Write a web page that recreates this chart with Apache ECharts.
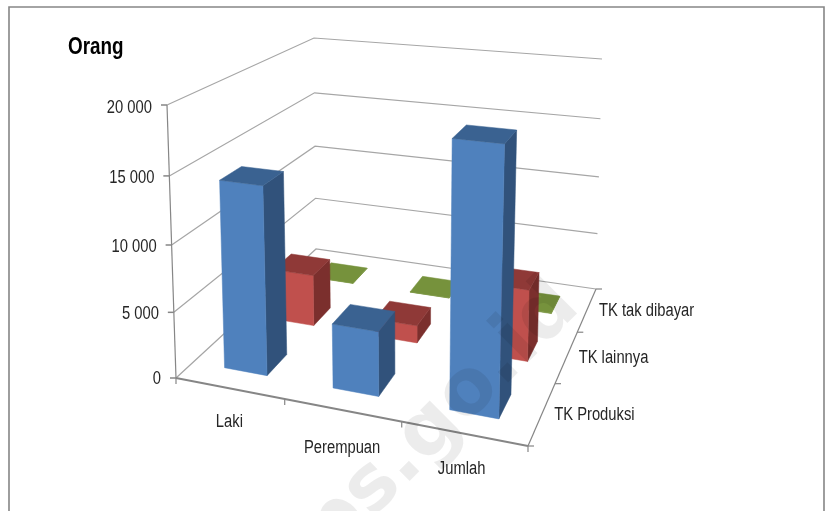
<!DOCTYPE html>
<html>
<head>
<meta charset="utf-8">
<style>html,body{margin:0;padding:0;background:#fff}#chart{width:825px;height:511px}</style>
<script src="https://cdn.jsdelivr.net/npm/echarts@6/dist/echarts.min.js"></script>
</head>
<body>
<div id="chart"></div>
<script>
// Workers by sex and worker type
const categories = ['Laki', 'Perempuan', 'Jumlah'];
const depthLabels = ['TK Produksi', 'TK lainnya', 'TK tak dibayar'];
const yTicks = [0, 5000, 10000, 15000, 20000];
const yTickLabels = ['0', '5 000', '10 000', '15 000', '20 000'];
const tkProduksi = [14200, 4800, 19000];
const tkLainnya = [4200, 1400, 5600];
const tkTakDibayar = [30, 20, 50];

const yMax = 20000;
const W = 825, H = 511;
const FONT = '"Liberation Sans",sans-serif';
const NARROW = 0.82;
const BAR_HALF = 0.2;
const HEIGHT_BEND = -0.05;
const CATEGORY_LABEL_SHIFT = [[0, 34], [0, 38], [-2, 35]];

// Maps the unit square onto a screen quad: front-left, front-right, back-right, back-left
function quadMap(q) {
  const [p0, p1, p2, p3] = q;
  const dx1 = p1[0] - p2[0], dx2 = p3[0] - p2[0], sx = p0[0] - p1[0] + p2[0] - p3[0];
  const dy1 = p1[1] - p2[1], dy2 = p3[1] - p2[1], sy = p0[1] - p1[1] + p2[1] - p3[1];
  const den = dx1 * dy2 - dx2 * dy1;
  const g = (sx * dy2 - dx2 * sy) / den, h = (dx1 * sy - sx * dy1) / den;
  const a = p1[0] - p0[0] + g * p1[0], b = p3[0] - p0[0] + h * p3[0];
  const d = p1[1] - p0[1] + g * p1[1], e = p3[1] - p0[1] + h * p3[1];
  return (u, v) => {
    const w = g * u + h * v + 1;
    return [(a * u + b * v + p0[0]) / w, (d * u + e * v + p0[1]) / w];
  };
}
const floorMap = quadMap([[176, 378], [528, 446], [596, 289], [316, 249]]);
const ceilingMap = quadMap([[167, 105], [537, 144], [602, 59], [314, 38]]);

// Category units and values go through the hidden axes, depth is in row units
function project(api, cat, depth, val) {
  const pt = api.coord([cat, val]);
  const u = pt[0] / api.getWidth(), t = 1 - pt[1] / api.getHeight(), v = depth / 3;
  const lo = floorMap(u, v), hi = ceilingMap(u, v);
  const s = t * (1 + HEIGHT_BEND) / (1 + HEIGHT_BEND * t);
  return [lo[0] + (hi[0] - lo[0]) * s, lo[1] + (hi[1] - lo[1]) * s];
}

function poly(points, fill) {
  return { type: 'polygon', shape: { points }, style: { fill, stroke: fill, lineWidth: 0.5 } };
}
function line(points, stroke, lineWidth) {
  return { type: 'polyline', shape: { points }, style: { fill: 'none', stroke, lineWidth } };
}
function label(text, x, y, align) {
  return { type: 'text', x, y, scaleX: NARROW, style: { text, fill: '#262626', font: '18px ' + FONT, align, verticalAlign: 'middle' } };
}

function barRenderer(colors) {
  return function (params, api) {
    const i = api.value(0), val = api.value(1), row = api.value(2);
    const x0 = i + 0.5 - BAR_HALF, x1 = i + 0.5 + BAR_HALF;
    const z0 = row + 0.5 - BAR_HALF, z1 = row + 0.5 + BAR_HALF;
    const P = (x, z, y) => project(api, x, z, y);
    return {
      type: 'group',
      children: [
        poly([P(x1, z0, 0), P(x1, z1, 0), P(x1, z1, val), P(x1, z0, val)], colors.side),
        poly([P(x0, z0, 0), P(x1, z0, 0), P(x1, z0, val), P(x0, z0, val)], colors.front),
        poly([P(x0, z0, val), P(x1, z0, val), P(x1, z1, val), P(x0, z1, val)], colors.top)
      ]
    };
  };
}

function barSeries(name, values, row, colors) {
  return {
    type: 'custom',
    name,
    coordinateSystem: 'cartesian2d',
    clip: false,
    renderItem: barRenderer(colors),
    encode: { x: 0, y: 1 },
    data: values.map((v, i) => [i, v, row])
  };
}

// Wall gridlines, value ticks and their labels
function wallRenderer(params, api) {
  const val = api.value(0);
  const front = project(api, 0, 0, val), corner = project(api, 0, 3, val), back = project(api, 3, 3, val);
  return {
    type: 'group',
    children: [
      line([front, corner, back], '#a6a6a6', 1.2),
      line([[front[0] - 6, front[1]], front], '#868686', 1.5),
      label(yTickLabels[params.dataIndex], front[0] - 15, front[1] + 1 + 2 * val / yMax, 'right')
    ]
  };
}

// Floor edges, category and row ticks with their labels
function floorRenderer(params, api) {
  const children = [];
  const tick = '#868686';
  children.push(line([project(api, 0, 0, 0), project(api, 0, 0, yMax)], tick, 1.2));
  children.push(line([project(api, 0, 0, 0), project(api, 3, 0, 0)], tick, 1.8));
  children.push(line([project(api, 3, 0, 0), project(api, 3, 3, 0)], tick, 1.2));
  for (let i = 0; i <= categories.length; i++) {
    const pt = project(api, i, 0, 0);
    children.push(line([pt, [pt[0], pt[1] + 6]], tick, 1.2));
  }
  for (let j = 0; j <= depthLabels.length; j++) {
    const pt = project(api, 3, j, 0);
    children.push(line([pt, [pt[0] + 6, pt[1]]], tick, 1.2));
  }
  categories.forEach((c, i) => {
    const pt = project(api, i + 0.5, 0, 0);
    const shift = CATEGORY_LABEL_SHIFT[i];
    children.push(label(c, pt[0] + shift[0], pt[1] + shift[1], 'center'));
  });
  depthLabels.forEach((c, j) => {
    const pt = project(api, 3, j + 0.5, 0);
    children.push(label(c, pt[0] + 12, pt[1] + 1.5, 'left'));
  });
  return { type: 'group', children };
}

const chart = echarts.init(document.getElementById('chart'), null, { renderer: 'canvas' });
chart.setOption({
  animation: false,
  backgroundColor: '#ffffff',
  grid: { left: 0, right: 0, top: 0, bottom: 0 },
  xAxis: { type: 'value', min: 0, max: categories.length, show: false },
  yAxis: { type: 'value', min: 0, max: yMax, interval: 5000, show: false },
  graphic: [
    { type: 'polyline', shape: { points: [[9, H], [9, 7], [824, 7], [824, H]] }, style: { fill: 'none', stroke: '#868686', lineWidth: 1.6 }, silent: true },
    {
      type: 'text', x: 68, y: 48, scaleX: NARROW, silent: true,
      style: { text: 'Orang', fill: '#000', font: 'bold 23px ' + FONT, align: 'left', verticalAlign: 'middle' }
    },
    {
      type: 'text', x: 595, y: 322, rotation: Math.PI / 4, z: 1000, silent: true,
      style: { text: 'bps.go.id', fill: 'rgba(0,0,0,0.075)', font: 'bold 78px "DejaVu Sans",sans-serif', align: 'right', verticalAlign: 'bottom' }
    }
  ],
  series: [
    { type: 'custom', name: 'grid', coordinateSystem: 'cartesian2d', clip: false, renderItem: wallRenderer, encode: { y: 0 }, data: yTicks.map(v => [v]) },
    { type: 'custom', name: 'floor', coordinateSystem: 'cartesian2d', clip: false, renderItem: floorRenderer, data: [[0]] },
    barSeries('TK tak dibayar', tkTakDibayar, 2, { front: '#76923c', side: '#76923c', top: '#76923c' }),
    barSeries('TK lainnya', tkLainnya, 1, { front: '#c0504d', side: '#7b2f2d', top: '#8f3937' }),
    barSeries('TK Produksi', tkProduksi, 0, { front: '#4f81bd', side: '#31527b', top: '#3a6291' })
  ]
});
</script>
</body>
</html>
